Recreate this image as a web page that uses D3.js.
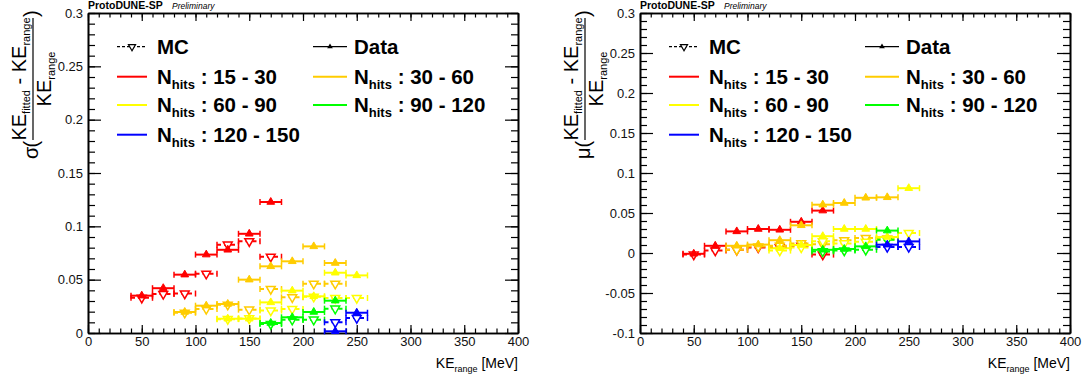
<!DOCTYPE html>
<html>
<head>
<meta charset="utf-8">
<script src="https://cdn.jsdelivr.net/npm/d3@7"></script>
<style>
body { margin: 0; background: #fff; }
svg { font-family: "Liberation Sans", Arial, sans-serif; }
</style>
</head>
<body>
<svg id="chart" width="1085" height="381"></svg>
<script>
// bin centres (MeV), each bin is 20 MeV wide
const keRed = [50, 70, 90, 110, 130, 150, 170];
const keOrange = [90, 110, 130, 150, 170, 190, 210, 230];
const keYellow = [130, 150, 170, 190, 210, 230, 250];
const keGreen = [170, 190, 210, 230];
const keBlue = [230, 250];

// resolution (sigma)
const sigmaDataRed = [0.035, 0.042, 0.0547, 0.0735, 0.078, 0.093, 0.1228];
const sigmaMcRed = [0.033, 0.0366, 0.037, 0.0556, 0.0828, 0.086, 0.0715];
const sigmaDataOrange = [0.0197, 0.0256, 0.0272, 0.050, 0.0625, 0.0672, 0.0812, 0.0656];
const sigmaMcOrange = [0.019, 0.0225, 0.0265, 0.0219, 0.0412, 0.0334, 0.0462, 0.0462];
const sigmaDataYellow = [0.0134, 0.0134, 0.0287, 0.0397, 0.0344, 0.0565, 0.054];
const sigmaMcYellow = [0.013, 0.0137, 0.021, 0.0225, 0.034, 0.0328, 0.0328];
const sigmaDataGreen = [0.0094, 0.0147, 0.0197, 0.0303];
const sigmaMcGreen = [0.0084, 0.0125, 0.0125, 0.0228];
const sigmaDataBlue = [0.0016, 0.019];
const sigmaMcBlue = [0.010, 0.014];

// bias (mu)
const muDataRed = [-0.001, 0.009, 0.027, 0.030, 0.029, 0.039, 0.053];
const muMcRed = [-0.002, 0.003, 0.004, 0.007, 0.007, 0.009, -0.002];
const muDataOrange = [0.009, 0.0105, 0.016, 0.0346, 0.0604, 0.0625, 0.069, 0.0696];
const muMcOrange = [0.004, 0.008, 0.009, 0.012, 0.011, 0.016, 0.0187, 0.018];
const muDataYellow = [0.006, 0.010, 0.021, 0.030, 0.030, 0.020, 0.081];
const muMcYellow = [0.003, 0.007, 0.0146, 0.012, 0.014, 0.017, 0.025];
const muDataGreen = [0.004, 0.005, 0.0083, 0.028];
const muMcGreen = [0.002, 0.003, 0.004, 0.0166];
const muDataBlue = [0.0104, 0.0145];
const muMcBlue = [0.0075, 0.0075];

const nhitsLabels = ["15 - 30", "30 - 60", "60 - 90", "90 - 120", "120 - 150"];
const xTickLabels = [0, 50, 100, 150, 200, 250, 300, 350, 400];
const sigmaTickLabels = [0, 0.05, 0.1, 0.15, 0.2, 0.25, 0.3];
const muTickLabels = [-0.1, -0.05, 0, 0.05, 0.1, 0.15, 0.2, 0.25, 0.3];

const colors = ["#ff0000", "#ffcc00", "#ffff00", "#00ff00", "#0000ff"];
const binHalf = 10;

const groupsSigma = [
    {ke: keRed, data: sigmaDataRed, mc: sigmaMcRed},
    {ke: keOrange, data: sigmaDataOrange, mc: sigmaMcOrange},
    {ke: keYellow, data: sigmaDataYellow, mc: sigmaMcYellow},
    {ke: keGreen, data: sigmaDataGreen, mc: sigmaMcGreen},
    {ke: keBlue, data: sigmaDataBlue, mc: sigmaMcBlue}
];
const groupsMu = [
    {ke: keRed, data: muDataRed, mc: muMcRed},
    {ke: keOrange, data: muDataOrange, mc: muMcOrange},
    {ke: keYellow, data: muDataYellow, mc: muMcYellow},
    {ke: keGreen, data: muDataGreen, mc: muMcGreen},
    {ke: keBlue, data: muDataBlue, mc: muMcBlue}
];

const svg = d3.select("#chart");
const triUp = d3.symbol().type(d3.symbolTriangle).size(26);
const triDown = d3.symbol().type(d3.symbolTriangle).size(34);

drawPanel(0, [0, 0.3], sigmaTickLabels, groupsSigma, "\u03c3");
drawPanel(552, [-0.1, 0.3], muTickLabels, groupsMu, "\u03bc");

function drawPanel(ox, yDomain, yTicks, groups, symbol) {
    let x = d3.scaleLinear().domain([0, 400]).range([88 + ox, 518 + ox]);
    let y = d3.scaleLinear().domain(yDomain).range([333, 13]);
    let g = svg.append("g");

    drawAxes(g, x, y, yTicks);

    // MC first, data on top
    groups.forEach((grp, i) => drawSeries(g, x, y, grp.ke, grp.mc, colors[i], true));
    groups.forEach((grp, i) => drawSeries(g, x, y, grp.ke, grp.data, colors[i], false));

    drawLegend(g, ox);
    drawYTitle(ox, symbol);

    g.append("text")
        .attr("x", 88 + ox).attr("y", 9)
        .style("font-size", "10.5px").style("font-weight", "bold")
        .text("ProtoDUNE-SP");
    g.append("text")
        .attr("x", 172 + ox).attr("y", 9)
        .style("font-size", "8.5px").style("font-style", "italic")
        .text("Preliminary");

    let xt = g.append("text")
        .attr("x", 518 + ox).attr("y", 368)
        .attr("text-anchor", "end")
        .style("font-size", "14px");
    xt.append("tspan").text("KE");
    xt.append("tspan").attr("dy", 4).style("font-size", "9px").text("range");
    xt.append("tspan").attr("dy", -4).text(" [MeV]");
}

function drawAxes(g, x, y, yTicks) {
    let x0 = x.range()[0], x1 = x.range()[1];
    let y0 = y.range()[0], y1 = y.range()[1];
    let xMinor = d3.range(0, 401, 10);
    let yMinor = d3.range(Math.round(y.domain()[0] * 100), Math.round(y.domain()[1] * 100) + 1).map(d => d / 100);
    let fmt = d => String(+d.toFixed(2));

    let axes = [
        g.append("g").attr("transform", `translate(0,${y0})`)
            .call(d3.axisBottom(x).tickValues(xTickLabels).tickSize(-8).tickSizeOuter(0).tickPadding(4).tickFormat(d3.format("d"))),
        g.append("g").attr("transform", `translate(0,${y0})`)
            .call(d3.axisBottom(x).tickValues(xMinor).tickSize(-4.5).tickSizeOuter(0).tickFormat("")),
        g.append("g").attr("transform", `translate(0,${y1})`)
            .call(d3.axisTop(x).tickValues(xTickLabels).tickSize(-8).tickSizeOuter(0).tickFormat("")),
        g.append("g").attr("transform", `translate(0,${y1})`)
            .call(d3.axisTop(x).tickValues(xMinor).tickSize(-4.5).tickSizeOuter(0).tickFormat("")),
        g.append("g").attr("transform", `translate(${x0},0)`)
            .call(d3.axisLeft(y).tickValues(yTicks).tickSize(-13).tickSizeOuter(0).tickPadding(5).tickFormat(fmt)),
        g.append("g").attr("transform", `translate(${x0},0)`)
            .call(d3.axisLeft(y).tickValues(yMinor).tickSize(-7).tickSizeOuter(0).tickFormat("")),
        g.append("g").attr("transform", `translate(${x1},0)`)
            .call(d3.axisRight(y).tickValues(yTicks).tickSize(-13).tickSizeOuter(0).tickFormat("")),
        g.append("g").attr("transform", `translate(${x1},0)`)
            .call(d3.axisRight(y).tickValues(yMinor).tickSize(-7).tickSizeOuter(0).tickFormat(""))
    ];
    axes.forEach(a => {
        a.select(".domain").attr("stroke", "#000").attr("stroke-width", 1.6);
        a.selectAll(".tick line").attr("stroke", "#000").attr("stroke-width", 1.2);
        a.selectAll(".tick text").attr("fill", "#111").style("font-size", "13px")
            .style("font-family", "'Liberation Sans', Arial, sans-serif");
    });
}

function drawSeries(g, x, y, ke, vals, color, isMc) {
    let pts = ke.map((k, i) => ({k: k, v: vals[i]}));
    let s = g.append("g")
        .attr("stroke", color)
        .attr("stroke-width", 2)
        .attr("fill", "none");

    s.selectAll("line.bar")
        .data(pts)
        .enter()
        .append("line")
        .attr("class", "bar")
        .attr("x1", d => x(d.k - binHalf))
        .attr("x2", d => x(d.k + binHalf))
        .attr("y1", d => y(d.v))
        .attr("y2", d => y(d.v))
        .attr("stroke-dasharray", isMc ? "4,3" : null);

    // little end caps of the error bars
    [-binHalf, binHalf].forEach(off => {
        s.selectAll(null)
            .data(pts)
            .enter()
            .append("line")
            .attr("x1", d => x(d.k + off))
            .attr("x2", d => x(d.k + off))
            .attr("y1", d => y(d.v) - 3)
            .attr("y2", d => y(d.v) + 3)
            .attr("stroke-width", 1.5);
    });

    s.selectAll("path.mark")
        .data(pts)
        .enter()
        .append("path")
        .attr("class", "mark")
        .attr("d", isMc ? triDown : triUp)
        .attr("transform", d => `translate(${x(d.k)},${y(d.v)})` + (isMc ? " rotate(180)" : ""))
        .attr("fill", isMc ? "#fff" : color)
        .attr("stroke-width", isMc ? 1.5 : 1);
}

function drawLegend(g, ox) {
    let leg = g.append("g").attr("transform", `translate(${ox},0)`);
    let rowY = [46.7, 76.7, 105, 134.7];
    let cols = [{lx: 117, tx: 157}, {lx: 313, tx: 354}];

    let entries = [
        {col: 0, row: 0, kind: "mc"},
        {col: 1, row: 0, kind: "data"}
    ];
    nhitsLabels.forEach((lab, i) => entries.push({col: i % 2, row: 1 + Math.floor(i / 2), kind: "n", i: i}));

    entries.forEach(e => {
        let c = cols[e.col];
        let cy = rowY[e.row];
        let lw = e.col === 0 ? 30 : 34;
        let color = e.kind === "n" ? colors[e.i] : "#000";
        leg.append("line")
            .attr("x1", c.lx).attr("x2", c.lx + lw)
            .attr("y1", cy).attr("y2", cy)
            .attr("stroke", color)
            .attr("stroke-width", e.kind === "n" ? 2 : 1.3)
            .attr("stroke-dasharray", e.kind === "mc" ? "3,2" : null);
        if (e.kind === "mc") {
            leg.append("path")
                .attr("d", d3.symbol().type(d3.symbolTriangle).size(22))
                .attr("transform", `translate(${c.lx + lw / 2},${cy}) rotate(180)`)
                .attr("fill", "#fff").attr("stroke", "#000").attr("stroke-width", 1.2);
        } else if (e.kind === "data") {
            leg.append("path")
                .attr("d", d3.symbol().type(d3.symbolTriangle).size(14))
                .attr("transform", `translate(${c.lx + lw / 2},${cy})`)
                .attr("fill", "#000");
        }
        let t = leg.append("text")
            .attr("x", c.tx).attr("y", cy + 7)
            .style("font-size", "20.5px").style("font-weight", "bold");
        if (e.kind === "mc") t.text("MC");
        else if (e.kind === "data") t.text("Data");
        else {
            t.append("tspan").text("N");
            t.append("tspan").attr("dy", 5).style("font-size", "13px").text("hits");
            t.append("tspan").attr("dy", -5).text(" : " + nhitsLabels[e.i]);
        }
    });
}

function drawYTitle(ox, symbol) {
    let t = svg.append("g").attr("transform", `translate(${ox},0) rotate(-90)`);
    let base = 38;
    t.append("text").attr("x", -159).attr("y", base)
        .style("font-size", "20px").text(symbol);
    t.append("text").attr("x", -147.5).attr("y", base)
        .style("font-size", "20px").text("(");
    t.append("text").attr("x", -17).attr("y", base)
        .style("font-size", "20px").text(")");

    t.append("line")
        .attr("x1", -140).attr("x2", -18)
        .attr("y1", 33).attr("y2", 33)
        .attr("stroke", "#000").attr("stroke-width", 1.2);

    let num = t.append("text").attr("x", -79).attr("y", 26)
        .attr("text-anchor", "middle").style("font-size", "20px");
    num.append("tspan").text("KE");
    num.append("tspan").attr("dy", 4).style("font-size", "11px").text("fitted");
    num.append("tspan").attr("dy", -4).text(" - KE");
    num.append("tspan").attr("dy", 4).style("font-size", "11px").text("range");

    let den = t.append("text").attr("x", -79).attr("y", 51)
        .attr("text-anchor", "middle").style("font-size", "20px");
    den.append("tspan").text("KE");
    den.append("tspan").attr("dy", 4).style("font-size", "11px").text("range");
}
</script>
</body>
</html>
